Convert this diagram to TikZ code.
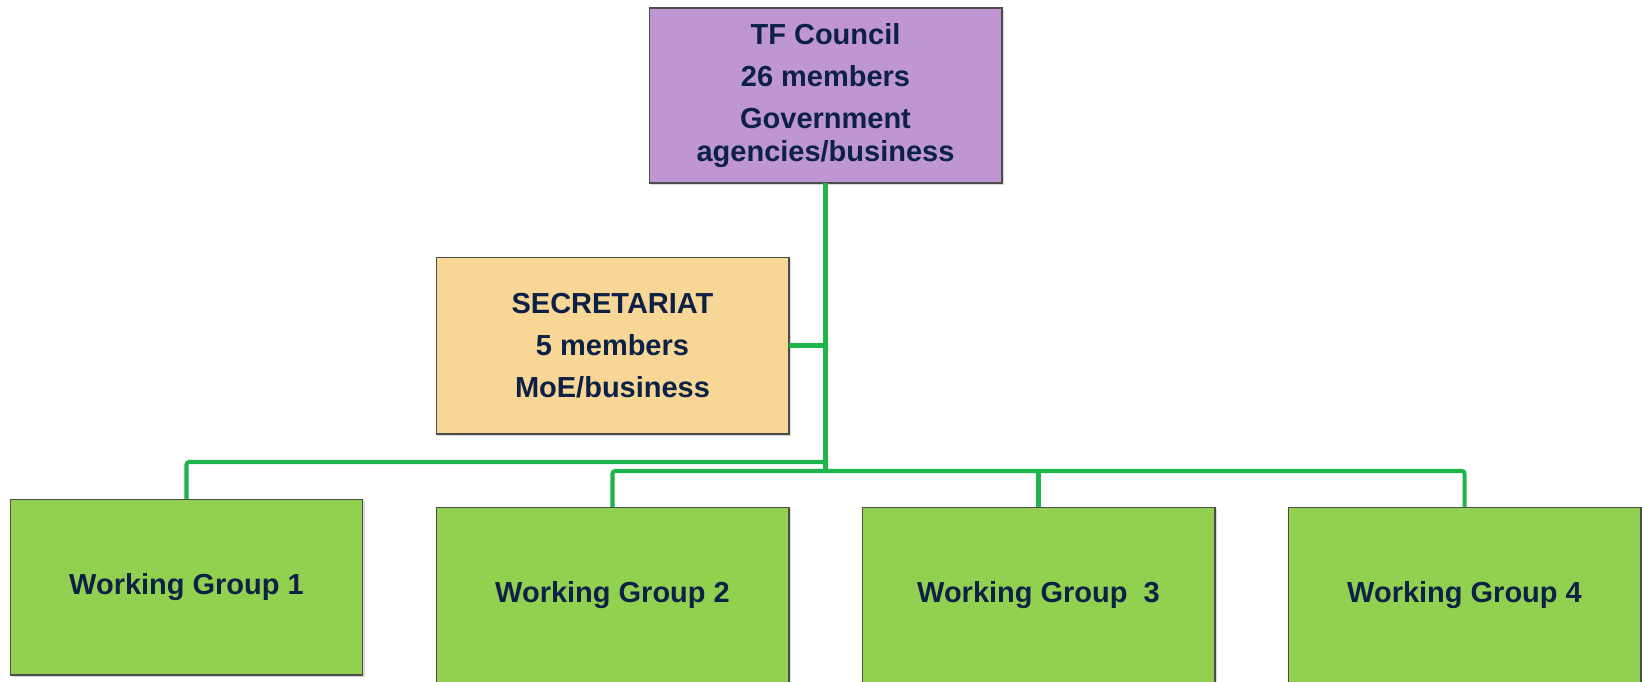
\documentclass[tikz,border=0pt]{standalone}
\usepackage{fontspec}
\setmainfont{Liberation Sans}
\usepackage{tikz}
\usetikzlibrary{shadows, calc}
\definecolor{navy}{HTML}{0D2146}
\definecolor{council}{HTML}{BF96D2}
\definecolor{secfill}{HTML}{F8D796}
\definecolor{wgfill}{HTML}{92D050}
\definecolor{wire}{HTML}{1DB54A}
\tikzset{
    unit/.style = {
        rectangle, draw=gray!60!black, line width=0.6pt,
        minimum width=7.06cm, minimum height=3.52cm, inner sep=0pt, outer sep=0pt,
        align=center, text=navy,
        font=\fontsize{16.5}{18.5}\selectfont\bfseries,
        drop shadow={opacity=0.3, shadow xshift=1.2pt, shadow yshift=-1.2pt}
    },
    link/.style = {draw=wire, line width=2.3pt, rounded corners=1.5pt},
}

\begin{document}
\begin{tikzpicture}[x=0.02cm, y=-0.02cm]
\useasboundingbox (0,0) rectangle (1642,681);

\node[unit, fill=council, minimum height=3.5cm] (tf) at (825.5,95.5)
    {TF Council\\[5.5pt] 26 members\\[5.5pt] Government\\ agencies/business};

\node[unit, fill=secfill, minimum height=3.54cm] (sec) at (612.5,345.5)
    {SECRETARIAT\\[5.5pt] 5 members\\[5.5pt] MoE/business};

\node[unit, fill=wgfill] (wg1) at (186.5,587) {Working Group 1};
\node[unit, fill=wgfill] (wg2) at (612.5,595) {Working Group 2};
\node[unit, fill=wgfill] (wg3) at (1038.5,595) {Working Group\ \ 3};
\node[unit, fill=wgfill] (wg4) at (1464.5,595) {Working Group 4};

\coordinate (lbus) at ($(tf.south)+(0,279)$);
\coordinate (rbus) at ($(tf.south)+(0,288)$);

\draw[link] (tf.south) -- (rbus);
\draw[link] (sec.east) -- (sec.east -| tf.south);
\draw[link] (wg1.north) |- (lbus);
\draw[link] (wg2.north) |- (rbus) -| (wg4.north);
\draw[link] (wg3.north) -- (wg3.north |- rbus);
\end{tikzpicture}
\end{document}
